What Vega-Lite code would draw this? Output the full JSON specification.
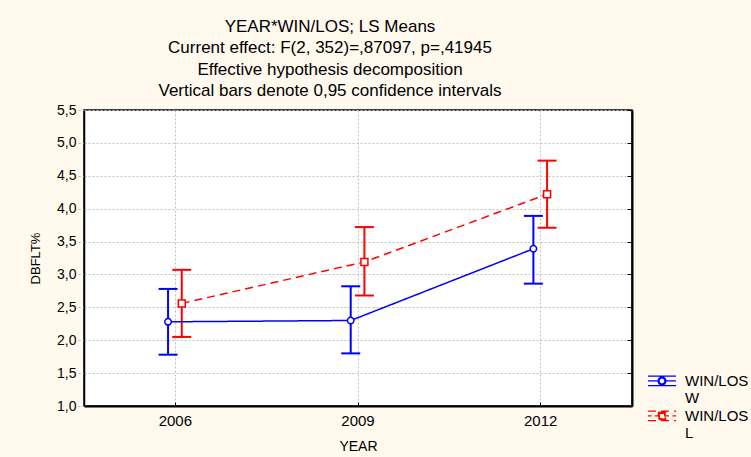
{
  "$schema": "https://vega.github.io/schema/vega-lite/v6.json",
  "autosize": {"type": "none"},
  "padding": {"left": 84, "top": 110, "right": 119, "bottom": 51},
  "width": 548,
  "height": 296,
  "background": "#FFF9EE",
  "config": {
    "font": "Liberation Sans",
    "view": {"fill": "#FFFFFF", "stroke": "#000000", "strokeWidth": 1.5},
    "axis": {"labelColor": "#000000", "titleColor": "#000000", "labelFont": "Liberation Sans", "titleFont": "Liberation Sans", "titleFontWeight": "normal"},
    "legend": {"symbolFillColor": "transparent"},
    "style": {"guide-label": {"lineHeight": 16.5}}
  },
  "title": {
    "text": ["YEAR*WIN/LOS; LS Means", "Current effect: F(2, 352)=,87097, p=,41945", "Effective hypothesis decomposition", "Vertical bars denote 0,95 confidence intervals"],
    "fontSize": 17,
    "fontWeight": "normal",
    "font": "Liberation Sans",
    "color": "#000000",
    "lineHeight": 21.5,
    "offset": 3,
    "dx": -28,
    "anchor": "middle",
    "frame": "group"
  },
  "data": {
    "values": [
      {"year": "2006", "group": "W", "mean": 2.28, "lo": 1.78, "hi": 2.78},
      {"year": "2006", "group": "L", "mean": 2.56, "lo": 2.05, "hi": 3.07},
      {"year": "2009", "group": "W", "mean": 2.30, "lo": 1.80, "hi": 2.82},
      {"year": "2009", "group": "L", "mean": 3.19, "lo": 2.68, "hi": 3.72},
      {"year": "2012", "group": "W", "mean": 3.39, "lo": 2.86, "hi": 3.89},
      {"year": "2012", "group": "L", "mean": 4.22, "lo": 3.71, "hi": 4.73}
    ]
  },
  "encoding": {
    "x": {
      "field": "year", "type": "ordinal",
      "scale": {"type": "band", "domain": ["2006", "2009", "2012"], "paddingInner": 0, "paddingOuter": 0},
      "axis": {
        "title": "YEAR", "titleFontSize": 14, "titlePadding": 11,
        "labelFontSize": 15, "labelAngle": 0, "labelPadding": 11,
        "bandPosition": 0.5,
        "grid": true, "gridColor": "#c0c0c0", "gridDash": [2, 2], "gridWidth": 1,
        "ticks": true, "tickSize": -4, "tickColor": "#000000",
        "domainColor": "#000000", "domainWidth": 2
      }
    },
    "xOffset": {
      "field": "group", "type": "nominal",
      "scale": {"type": "point", "domain": ["W", "L"], "range": [77.2, 104.6]}
    },
    "color": {
      "field": "group", "type": "nominal",
      "scale": {"domain": ["W", "L"], "range": ["#0000FF", "#FF0000"]},
      "legend": null
    }
  },
  "layer": [
    {
      "mark": {"type": "point", "filled": false, "opacity": 0, "strokeWidth": 1.5},
      "encoding": {
        "y": {"field": "mean", "type": "quantitative", "axis": null},
        "stroke": {
          "field": "group", "type": "nominal",
          "scale": {"domain": ["W", "L"], "range": ["#0000FF", "#FF0000"]},
          "legend": {
            "title": null,
            "orient": "none",
            "legendX": 563,
            "legendY": 261,
            "labelExpr": "['WIN/LOS', datum.label]",
            "labelFontSize": 15,
            "labelFont": "Liberation Sans",
            "labelColor": "#000000",
            "labelOffset": 8,
            "labelBaseline": "alphabetic",
            "symbolSize": 784,
            "symbolStrokeWidth": 1.2,
            "symbolFillColor": "transparent",
            "symbolOpacity": 1,
            "rowPadding": 0
          }
        },
        "shape": {
          "field": "group", "type": "nominal",
          "scale": {"domain": ["W", "L"], "range": [
            "M-1,-0.7H1M-1,-0.02H1M0,-0.7V-0.64M0,-0.08V-0.02M-1,-0.36H-0.28M0.28,-0.36H1M-0.28,-0.36A0.28,0.28,0,1,0,0.28,-0.36A0.28,0.28,0,1,0,-0.28,-0.36ZM-0.21,-0.36A0.21,0.21,0,1,1,0.21,-0.36A0.21,0.21,0,1,1,-0.21,-0.36Z",
            "M-1,-0.7H1M-1,-0.02H1M0,-0.7V-0.62M0,-0.1V-0.02M-1,-0.36H-0.75M-0.5,-0.36H-0.26M0.26,-0.36H0.5M0.75,-0.36H1M-0.26,-0.62H0.26V-0.1H-0.26ZM-0.19,-0.55V-0.17H0.19V-0.55Z"
          ]}
        }
      }
    },
    {
      "mark": {"type": "rule", "strokeWidth": 2},
      "encoding": {
        "y": {"field": "lo", "type": "quantitative", "axis": null},
        "y2": {"field": "hi"}
      }
    },
    {
      "mark": {"type": "tick", "orient": "horizontal", "size": 19, "thickness": 2, "opacity": 1},
      "encoding": {
        "y": {"field": "lo", "type": "quantitative", "axis": null}
      }
    },
    {
      "mark": {"type": "tick", "orient": "horizontal", "size": 19, "thickness": 2, "opacity": 1},
      "encoding": {
        "y": {"field": "hi", "type": "quantitative", "axis": null}
      }
    },
    {
      "mark": {"type": "line", "strokeWidth": 1.5},
      "encoding": {
        "y": {
          "field": "mean", "type": "quantitative",
          "scale": {"domain": [1, 5.5], "nice": false, "zero": false},
          "axis": {
            "title": "DBFLT%", "titleFontSize": 13, "titlePadding": 14,
            "values": [1, 1.5, 2, 2.5, 3, 3.5, 4, 4.5, 5, 5.5],
            "labelExpr": "replace(format(datum.value, '.1f'), '.', ',')",
            "labelFontSize": 14, "labelPadding": 2,
            "grid": true, "gridColor": "#c0c0c0", "gridDash": [2, 2], "gridWidth": 1,
            "tickSize": 6, "tickColor": "#b8b8b8", "tickDash": [2, 2],
            "domainColor": "#000000", "domainWidth": 1.5
          }
        },
        "strokeDash": {
          "field": "group", "type": "nominal",
          "scale": {"domain": ["W", "L"], "range": [[1, 0], [8, 5]]},
          "legend": null
        }
      }
    },
    {
      "transform": [{"filter": "datum.group === 'W'"}],
      "mark": {"type": "point", "shape": "circle", "filled": true, "fill": "#FFFFFF", "stroke": "#0000FF", "strokeWidth": 1.5, "opacity": 1, "size": 42},
      "encoding": {
        "y": {"field": "mean", "type": "quantitative", "axis": null}
      }
    },
    {
      "transform": [{"filter": "datum.group === 'L'"}],
      "mark": {"type": "point", "shape": "square", "filled": true, "fill": "#FFFFFF", "stroke": "#FF0000", "strokeWidth": 1.5, "opacity": 1, "size": 49},
      "encoding": {
        "y": {"field": "mean", "type": "quantitative", "axis": null}
      }
    },
    {
      "mark": {"type": "rule", "strokeWidth": 0},
      "encoding": {
        "y": {
          "field": "mean", "type": "quantitative",
          "axis": {
            "orient": "right", "title": null, "labels": false, "grid": false,
            "values": [1, 1.5, 2, 2.5, 3, 3.5, 4, 4.5, 5, 5.5],
            "tickSize": -5, "tickColor": "#000000",
            "domainColor": "#000000", "domainWidth": 2
          }
        }
      }
    }
  ],
  "resolve": {"axis": {"y": "independent"}}
}
